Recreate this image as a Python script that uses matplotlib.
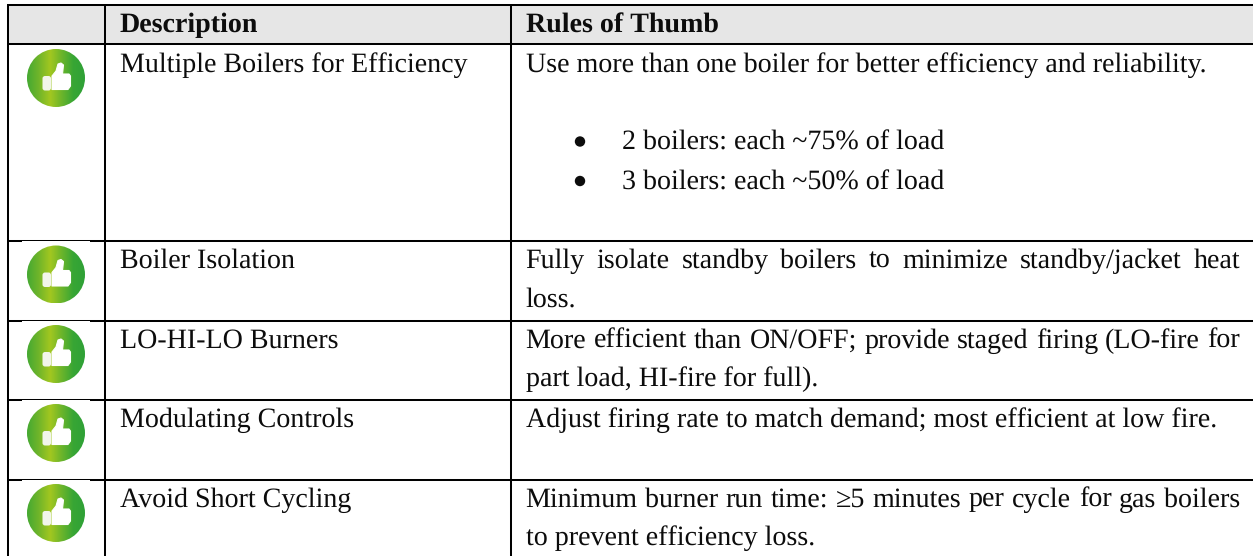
import numpy as np
import matplotlib
matplotlib.use("Agg")
import matplotlib.pyplot as plt
from matplotlib.colors import LinearSegmentedColormap
from matplotlib.patches import Circle, Polygon, Rectangle, FancyBboxPatch

plt.rcParams["text.hinting"] = "no_hinting"
plt.rcParams["text.hinting_factor"] = 1

W, H = 1253, 556
FONT = "Liberation Serif"
FS = 20.1

headers = ["Description", "Rules of Thumb"]
descriptions = ["Multiple Boilers for Efficiency", "Boiler Isolation", "LO-HI-LO Burners",
                "Modulating Controls", "Avoid Short Cycling"]
row_rules = [
    [("Use more than one boiler for better efficiency and reliability.", False)],
    [("Fully isolate standby boilers to minimize standby/jacket heat", True), ("loss.", False)],
    [("More efficient than ON/OFF; provide staged firing (LO-fire for", True),
     ("part load, HI-fire for full).", False)],
    [("Adjust firing rate to match demand; most efficient at low fire.", False)],
    [("Minimum burner run time: ≥5 minutes per cycle for gas boilers", True),
     ("to prevent efficiency loss.", False)],
]
bullets = ["2 boilers: each ~75% of load", "3 boilers: each ~50% of load"]

# pixel layout
X_LEFT, X_COL2, X_COL3 = 7.5, 105, 511
Y_TOP, Y_HEAD = 5, 44
row_lines = [241, 320.5, 400, 479.5]
row_base = [72, 268, 348, 427, 506.5]
icon_y = [78, 274.5, 354, 433, 513]
LINE_GAP = 38.5
TEXT2, TEXT3, RIGHT = 119.5, 525.5, 1240
INK = "#0c0c0c"

green = LinearSegmentedColormap.from_list(
    "thumb", ["#45a932", "#70b52a", "#a2c720", "#6cb52b", "#38a634", "#2fa137"])


def draw_icon(ax, cx, cy, r=29):
    ax.add_patch(Rectangle((cx - 34, cy - 33.5), 68, 68, fc="white", ec="none", zorder=3))
    im = ax.imshow(np.linspace(0, 1, 128)[None, :], cmap=green, extent=(cx - r, cx + r, cy + r, cy - r),
                   aspect="auto", zorder=4, interpolation="bilinear")
    im.set_clip_path(Circle((cx, cy), r, transform=ax.transData))
    ax.add_patch(FancyBboxPatch((cx - 13.5, cy - 2), 8.5, 14.5, boxstyle="round,pad=0,rounding_size=2.5",
                                fc="#f2f5ea", ec="none", zorder=5))
    hand = [(-4, -2), (0, -7), (2, -14), (5, -15), (7.5, -13), (6.5, -4), (13, -4), (14.5, -2),
            (14.5, 8), (12, 11.5), (-4, 11.5)]
    ax.add_patch(Polygon([(cx + a, cy + b) for a, b in hand], closed=True, fc="white", ec="white",
                         lw=0.8, joinstyle="round", zorder=5))


def put(ax, x, y, s, weight="normal"):
    return ax.text(x, y, s, family=FONT, fontsize=FS, weight=weight, color=INK, va="baseline", ha="left", zorder=6)


def justified(ax, fig, x, y, s, right):
    # word spacing stretched so the line ends at the right margin, like the Word source
    words = s.split(" ")
    r = fig.canvas.get_renderer()
    arts = [put(ax, x, y, w) for w in words]
    widths = [a.get_window_extent(r).width for a in arts]  # data units are pixels here
    gap = (right - x - sum(widths)) / (len(words) - 1)
    pos = x
    for a, w in zip(arts, widths):
        a.set_x(pos)
        pos += w + gap


fig = plt.figure(figsize=(W / 100, H / 100), dpi=100, facecolor="white")
ax = fig.add_axes([0, 0, 1, 1])
ax.axis("off")
ax.set_xlim(0, W)
ax.set_ylim(H, 0)
ax.set_autoscale_on(False)

ax.add_patch(Rectangle((X_LEFT, Y_TOP), W - X_LEFT, Y_HEAD - Y_TOP, fc="#e6e6e6", ec="none", zorder=1))
lw = 1.45
for y in [Y_TOP, Y_HEAD] + row_lines:
    ax.plot([X_LEFT - 1, W], [y, y], color="black", lw=lw, solid_capstyle="butt", zorder=2)
for x in [X_LEFT, X_COL2, X_COL3]:
    ax.plot([x, x], [Y_TOP, H], color="black", lw=lw, solid_capstyle="butt", zorder=2)

put(ax, TEXT2, 32.5, headers[0], weight="bold")
put(ax, TEXT3, 32.5, headers[1], weight="bold")

for y in icon_y:
    draw_icon(ax, 56, y)

for desc, base, lines in zip(descriptions, row_base, row_rules):
    put(ax, TEXT2, base, desc)
    for i, (s, just) in enumerate(lines):
        if just:
            justified(ax, fig, TEXT3, base + i * LINE_GAP, s, RIGHT)
        else:
            put(ax, TEXT3, base + i * LINE_GAP, s)

for i, s in enumerate(bullets):
    yb = 150 + i * 39.5
    ax.add_patch(Circle((580, yb - 8.5), 5.2, fc=INK, ec="none", zorder=6))
    put(ax, 622, yb, s)

ax.set_xlim(0, W)
ax.set_ylim(H, 0)
fig.savefig("out.png", dpi=100, facecolor="white")
